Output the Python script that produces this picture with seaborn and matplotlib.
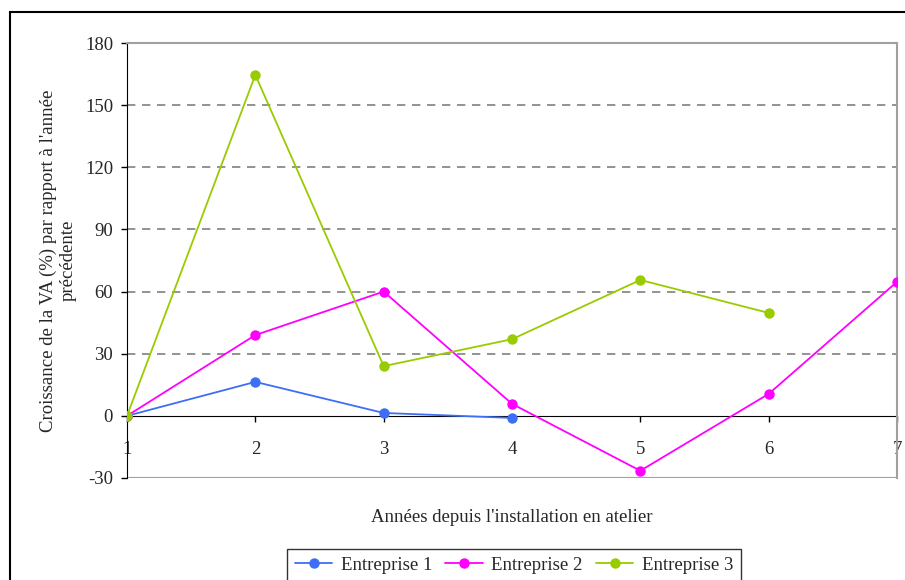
import pandas as pd
import seaborn as sns
import matplotlib.pyplot as plt
from matplotlib.patches import Rectangle

years_e1 = [1, 2, 3, 4]
growth_e1 = [0, 16.4, 1.4, -1.0]
years_e2 = [1, 2, 3, 4, 5, 6, 7]
growth_e2 = [0, 39, 60, 5.8, -26.5, 10.6, 64.7]
years_e3 = [1, 2, 3, 4, 5, 6]
growth_e3 = [0, 164.6, 24, 37, 65.6, 49.7]
series = ['Entreprise 1', 'Entreprise 2', 'Entreprise 3']
colors = ['#3D6EF5', '#FF00FF', '#99CC00']

df = pd.concat([
    pd.DataFrame({'annee': years_e1, 'croissance': growth_e1, 'serie': series[0]}),
    pd.DataFrame({'annee': years_e2, 'croissance': growth_e2, 'serie': series[1]}),
    pd.DataFrame({'annee': years_e3, 'croissance': growth_e3, 'serie': series[2]}),
])

sns.set_style('white')
plt.rcParams['font.family'] = ['Liberation Serif', 'DejaVu Serif']
plt.rcParams['axes.unicode_minus'] = False

fig = plt.figure(figsize=(9.05, 5.8), dpi=100)
ax = fig.add_axes([127 / 905, 102 / 580, 770 / 905, 435 / 580])

# dashed grid lines
for yv in [30, 60, 90, 120, 150]:
    ax.axhline(yv, color='#808080', lw=1.2, ls=(0, (5, 4)), zorder=0)
ax.axhline(-30, color='#a0a0a0', lw=1.5, zorder=0)

sns.lineplot(data=df, x='annee', y='croissance', hue='serie', palette=colors,
             marker='o', markersize=7.5, markeredgewidth=0, linewidth=1.3,
             ax=ax, legend=True, zorder=3)

ax.set_xlim(1, 7)
ax.set_ylim(-30, 180)
ax.set_yticks(range(-30, 181, 30))
ax.set_xticks(range(1, 8))

ax.spines['bottom'].set_position(('data', 0))
ax.spines['bottom'].set_color('black')
ax.spines['bottom'].set_zorder(1)
ax.spines['left'].set_color('black')
for s in ['top', 'right']:
    ax.spines[s].set_color('#a0a0a0')
    ax.spines[s].set_linewidth(1.5)

ax.tick_params(axis='y', direction='out', length=4, width=1, color='black',
               labelsize=13.5, pad=6, left=True)
ax.tick_params(axis='x', direction='out', length=4, width=1, color='black',
               labelsize=13.5, pad=14, bottom=True)

ax.set_xlabel("Années depuis l'installation en atelier", fontsize=13.5, labelpad=0)
ax.xaxis.set_label_coords(0.5, -0.071)
ax.set_ylabel("Croissance de la VA (%) par rapport à l'année\nprécédente",
              fontsize=13.5, labelpad=6)

handles, labels = ax.get_legend_handles_labels()
ax.get_legend().remove()
leg = fig.legend(handles, labels, loc='upper center', ncol=3,
                 bbox_to_anchor=(514 / 905, 1 - 540 / 580), frameon=True,
                 fancybox=False, edgecolor='black', fontsize=13.5,
                 handlelength=2.0, handletextpad=0.45, columnspacing=0.7,
                 borderpad=0.4)
leg.get_frame().set_linewidth(1)

fig.patches.append(Rectangle((10 / 905, -0.2), 1.2, 0.2 + 1 - 12 / 580,
                             fill=False, edgecolor='black', lw=1.5,
                             transform=fig.transFigure, figure=fig))

fig.savefig('out.png', dpi=100)
